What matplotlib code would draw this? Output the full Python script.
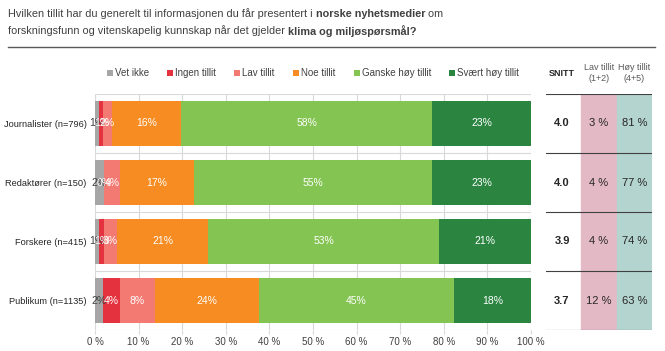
import matplotlib.pyplot as plt
import numpy as np

plt.rcParams['font.family'] = ['Liberation Sans', 'DejaVu Sans']

# groups and answer categories
groups = ["Journalister (n=796)", "Redaktører (n=150)", "Forskere (n=415)", "Publikum (n=1135)"]
answers = ["Vet ikke", "Ingen tillit", "Lav tillit", "Noe tillit", "Ganske høy tillit", "Svært høy tillit"]
colors = ["#a6a6a6", "#e4323f", "#f37a72", "#f68c22", "#84c452", "#2b8541"]

# shares in percent
vet_ikke = [1.0, 2.0, 1.0, 1.8]
ingen = [0.9, 0.0, 1.0, 4.0]
lav = [1.9, 3.8, 3.0, 7.9]
noe = [16.0, 16.8, 21.0, 23.9]
ganske = [57.6, 54.8, 53.0, 44.7]
svaert = [22.6, 22.6, 21.0, 17.7]
shown = [[1, 1, 2, 16, 58, 23], [2, 0, 4, 17, 55, 23], [1, 1, 3, 21, 53, 21], [2, 4, 8, 24, 45, 18]]

# summary table
snitt = ["4.0", "4.0", "3.9", "3.7"]
lav_sum = ["3 %", "4 %", "4 %", "12 %"]
hoy_sum = ["81 %", "77 %", "74 %", "63 %"]

# title pieces: (text, bold)
title_1 = [("Hvilken tillit har du generelt til informasjonen du får presentert i ", False),
           ("norske nyhetsmedier", True), (" om", False)]
title_2 = [("forskningsfunn og vitenskapelig kunnskap når det gjelder ", False),
           ("klima og miljøspørsmål?", True)]

series = [vet_ikke, ingen, lav, noe, ganske, svaert]


def rich_line(fig, x, y, pieces, **kw):
    """Write a line of mixed regular/bold text piece by piece."""
    renderer = fig.canvas.get_renderer()
    inv = fig.transFigure.inverted()
    for txt, bold in pieces:
        t = fig.text(x, y, txt, fontweight="bold" if bold else "normal", **kw)
        bb = t.get_window_extent(renderer=renderer)
        x = inv.transform((bb.x1, bb.y0))[0]


fig = plt.figure(figsize=(6.65, 3.51), dpi=100)
W, H = 665, 351
ax = fig.add_axes([95 / W, 1 - 330 / H, 436 / W, 236 / H])

y = np.arange(len(groups))
left = np.zeros(len(groups))
for k, (vals, col, name) in enumerate(zip(series, colors, answers)):
    vals = np.array(vals)
    ax.barh(y, vals, left=left, height=0.77, color=col, label=name, zorder=2)
    for i in range(len(groups)):
        txtcol = "#404040" if k == 0 else "white"
        ax.text(left[i] + vals[i] / 2, y[i], f"{shown[i][k]}%", ha="center", va="center",
                fontsize=7.5, color=txtcol, zorder=3)
    left += vals

ax.set_xlim(0, 100)
ax.set_ylim(3.5, -0.5)
ax.set_yticks(y)
ax.set_yticklabels(groups, fontsize=6.7, color="#262626")
ax.set_xticks(np.arange(0, 101, 10))
ax.set_xticklabels([f"{v} %" for v in range(0, 101, 10)], fontsize=7, color="#404040")
ax.tick_params(axis="y", length=0, pad=6)
ax.tick_params(axis="x", length=3, color="#d9d9d9", pad=2)
for v in range(0, 101, 10):
    ax.axvline(v, color="#d9d9d9", lw=0.8, zorder=1)
for b in [-0.5, 0.5, 1.5, 2.5, 3.5]:
    ax.axhline(b, color="#d9d9d9", lw=0.8, zorder=1)
for s in ax.spines.values():
    s.set_visible(False)

ax.legend(loc="lower center", bbox_to_anchor=(0.5, 1.03), ncol=6, frameon=False,
          fontsize=7, handlelength=0.6, handleheight=0.6, handletextpad=0.2,
          columnspacing=1.9, labelcolor="#404040")

# table on the right
tab = fig.add_axes([546 / W, 1 - 330 / H, 106 / W, 236 / H])
tab.set_xlim(546, 652)
tab.set_ylim(3.5, -0.5)
tab.axis("off")
tab.axvspan(581, 617, color="#e4b9c6", zorder=0)
tab.axvspan(617, 652, color="#b4d4cf", zorder=0)
for b in [-0.5, 0.5, 1.5, 2.5, 3.5]:
    tab.axhline(b, color="#404040", lw=0.8, zorder=1)
for i in range(len(groups)):
    tab.text(562, y[i], snitt[i], ha="center", va="center", fontsize=8, fontweight="bold", color="#262626")
    tab.text(599, y[i], lav_sum[i], ha="center", va="center", fontsize=8, color="#262626")
    tab.text(634.5, y[i], hoy_sum[i], ha="center", va="center", fontsize=8, color="#262626")
tab.text(562, -0.85, "SNITT", ha="center", va="center", fontsize=6.5, fontweight="bold", color="#262626")
tab.text(599, -0.85, "Lav tillit\n(1+2)", ha="center", va="center", fontsize=6.5, color="#595959", linespacing=1.3)
tab.text(634.5, -0.85, "Høy tillit\n(4+5)", ha="center", va="center", fontsize=6.5, color="#595959", linespacing=1.3)

# title
rich_line(fig, 8 / W, 1 - 14 / H, title_1, fontsize=7.8, color="#404040", va="center")
rich_line(fig, 8 / W, 1 - 31 / H, title_2, fontsize=7.8, color="#404040", va="center")
fig.add_artist(plt.Line2D([8 / W, 655 / W], [1 - 47 / H, 1 - 47 / H], color="#595959", lw=1))

fig.savefig("out.png", dpi=100)
